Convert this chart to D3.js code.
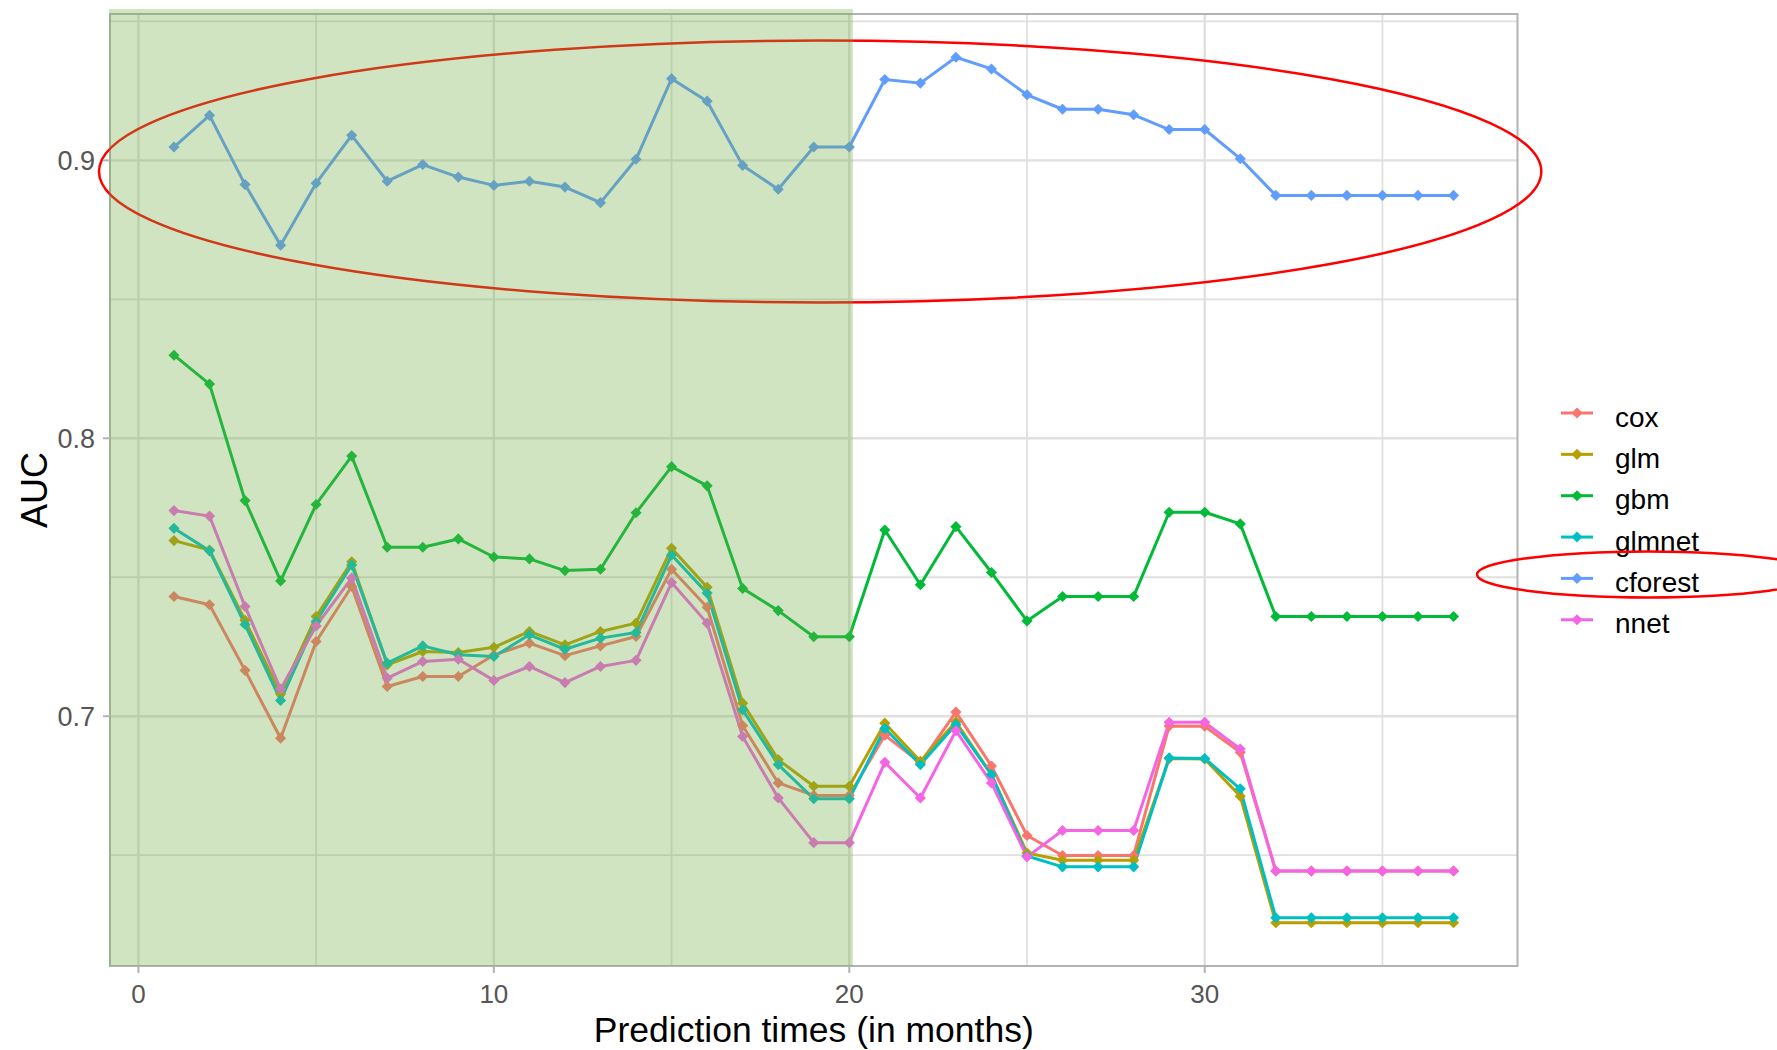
<!DOCTYPE html>
<html>
<head>
<meta charset="utf-8">
<script src="https://cdn.jsdelivr.net/npm/d3@7"></script>
<style>
  body { margin: 0; background: #fff; }
  svg { font-family: "Liberation Sans", Arial, sans-serif; }
</style>
</head>
<body>
<div id="chart"></div>
<script>
var svgWidth = 1777;
var svgHeight = 1050;

// prediction times (months)
var months = [1, 2, 3, 4, 5, 6, 7, 8, 9, 10, 11, 12, 13, 14, 15, 16, 17, 18, 19, 20,
  21, 22, 23, 24, 25, 26, 27, 28, 29, 30, 31, 32, 33, 34, 35, 36, 37];

var cox = [0.7431, 0.7401, 0.7165, 0.6921, 0.7269, 0.7467, 0.7107, 0.7143, 0.7143, 0.7220,
  0.7263, 0.7218, 0.7253, 0.7287, 0.7529, 0.7392, 0.6966, 0.6760, 0.6715, 0.6715,
  0.6932, 0.6832, 0.7015, 0.6821, 0.6571, 0.6499, 0.6499, 0.6499, 0.6965, 0.6964,
  0.6870, 0.6443, 0.6443, 0.6443, 0.6443, 0.6443, 0.6443];
var glm = [0.7632, 0.7598, 0.7345, 0.7080, 0.7359, 0.7556, 0.7185, 0.7233, 0.7229, 0.7248,
  0.7305, 0.7257, 0.7305, 0.7335, 0.7604, 0.7464, 0.7047, 0.6844, 0.6748, 0.6748,
  0.6975, 0.6838, 0.6980, 0.6790, 0.6508, 0.6482, 0.6482, 0.6482, 0.6848, 0.6846,
  0.6712, 0.6257, 0.6257, 0.6257, 0.6257, 0.6257, 0.6257];
var gbm = [0.8299, 0.8195, 0.7776, 0.7487, 0.7762, 0.7936, 0.7608, 0.7608, 0.7638, 0.7573,
  0.7566, 0.7524, 0.7529, 0.7732, 0.7898, 0.7829, 0.7460, 0.7380, 0.7286, 0.7286,
  0.7670, 0.7473, 0.7682, 0.7517, 0.7343, 0.7431, 0.7431, 0.7431, 0.7734, 0.7734,
  0.7692, 0.7359, 0.7359, 0.7359, 0.7359, 0.7359, 0.7359];
var glmnet = [0.7676, 0.7595, 0.7330, 0.7057, 0.7341, 0.7544, 0.7191, 0.7253, 0.7221, 0.7215,
  0.7293, 0.7241, 0.7281, 0.7301, 0.7580, 0.7443, 0.7023, 0.6826, 0.6703, 0.6703,
  0.6956, 0.6826, 0.6970, 0.6790, 0.6497, 0.6458, 0.6458, 0.6458, 0.6850, 0.6848,
  0.6739, 0.6275, 0.6275, 0.6275, 0.6275, 0.6275, 0.6275];
var cforest = [0.9048, 0.9162, 0.8913, 0.8695, 0.8918, 0.9090, 0.8925, 0.8985, 0.8940, 0.8910,
  0.8925, 0.8904, 0.8848, 0.9004, 0.9294, 0.9213, 0.8982, 0.8896, 0.9048, 0.9048,
  0.9291, 0.9278, 0.9371, 0.9329, 0.9236, 0.9184, 0.9184, 0.9164, 0.9111, 0.9111,
  0.9006, 0.8874, 0.8874, 0.8874, 0.8874, 0.8874, 0.8874];
var nnet = [0.7740, 0.7720, 0.7395, 0.7098, 0.7325, 0.7497, 0.7137, 0.7197, 0.7205, 0.7129,
  0.7179, 0.7121, 0.7179, 0.7201, 0.7481, 0.7335, 0.6927, 0.6706, 0.6545, 0.6545,
  0.6834, 0.6706, 0.6948, 0.6760, 0.6494, 0.6589, 0.6589, 0.6589, 0.6978, 0.6978,
  0.6882, 0.6443, 0.6443, 0.6443, 0.6443, 0.6443, 0.6443];

var modelNames = ["cox", "glm", "gbm", "glmnet", "cforest", "nnet"];
var modelColors = ["#F8766D", "#B79F00", "#00BA38", "#00BFC4", "#619CFF", "#F564E3"];

var xTicks = [0, 10, 20, 30];
var xMinor = [5, 15, 25, 35];
var yTicks = [0.7, 0.8, 0.9];
var yMinor = [0.65, 0.75, 0.85, 0.95];

// highlighted training window and annotation ellipse (data units)
var shadeEnd = 20.1;
var ellipse = {cx: 19.18, cy: 0.896, rx: 20.29, ry: 0.0471};

var panel = {left: 110, right: 1517.5, top: 14, bottom: 966};

var series = modelNames.map(function(name, i) {
  var vals = [cox, glm, gbm, glmnet, cforest, nnet][i];
  return {name: name, color: modelColors[i],
    values: months.map(function(m, j) { return {x: m, y: vals[j]}; })};
});

// ggplot style 5% expansion
var allY = [].concat(cox, glm, gbm, glmnet, cforest, nnet);
var yMin = d3.min(allY), yMax = d3.max(allY);
var xMin = d3.min(months), xMax = d3.max(months);
var xPad = (xMax - xMin) * 0.05, yPad = (yMax - yMin) * 0.05;

var xScale = d3.scaleLinear()
  .domain([xMin - xPad, xMax + xPad])
  .range([panel.left, panel.right]);
var yScale = d3.scaleLinear()
  .domain([yMin - yPad, yMax + yPad])
  .range([panel.bottom, panel.top]);

var svg = d3.select("#chart").append("svg")
  .attr("width", svgWidth)
  .attr("height", svgHeight);

var gridColor = "#e0e0e0";
var grid = svg.append("g");
grid.selectAll(".ymin").data(yMinor).enter().append("line")
  .attr("x1", panel.left).attr("x2", panel.right)
  .attr("y1", d => yScale(d)).attr("y2", d => yScale(d))
  .attr("stroke", gridColor).attr("stroke-width", 1.8);
grid.selectAll(".xmin").data(xMinor).enter().append("line")
  .attr("y1", panel.top).attr("y2", panel.bottom)
  .attr("x1", d => xScale(d)).attr("x2", d => xScale(d))
  .attr("stroke", gridColor).attr("stroke-width", 1.8);
grid.selectAll(".ymaj").data(yTicks).enter().append("line")
  .attr("x1", panel.left).attr("x2", panel.right)
  .attr("y1", d => yScale(d)).attr("y2", d => yScale(d))
  .attr("stroke", gridColor).attr("stroke-width", 2.4);
grid.selectAll(".xmaj").data(xTicks).enter().append("line")
  .attr("y1", panel.top).attr("y2", panel.bottom)
  .attr("x1", d => xScale(d)).attr("x2", d => xScale(d))
  .attr("stroke", gridColor).attr("stroke-width", 2.4);

// lines
var line = d3.line().x(d => xScale(d.x)).y(d => yScale(d.y));
svg.append("g").selectAll("path").data(series).enter().append("path")
  .attr("d", d => line(d.values))
  .attr("fill", "none")
  .attr("stroke", d => d.color)
  .attr("stroke-width", 3)
  .attr("stroke-linejoin", "round");

// diamond points
var diamond = d3.symbol().type(d3.symbolSquare).size(62);
series.forEach(function(s) {
  svg.append("g").selectAll("path").data(s.values).enter().append("path")
    .attr("d", diamond)
    .attr("transform", d => `translate(${xScale(d.x)},${yScale(d.y)}) rotate(45)`)
    .attr("fill", s.color);
});

// panel border
svg.append("rect")
  .attr("x", panel.left).attr("y", panel.top)
  .attr("width", panel.right - panel.left).attr("height", panel.bottom - panel.top)
  .attr("fill", "none").attr("stroke", "#b3b3b3").attr("stroke-width", 2);

// red annotation ellipse around cforest
svg.append("ellipse")
  .attr("cx", xScale(ellipse.cx))
  .attr("cy", yScale(ellipse.cy))
  .attr("rx", xScale(ellipse.rx) - xScale(0))
  .attr("ry", yScale(0) - yScale(ellipse.ry))
  .attr("fill", "none").attr("stroke", "#ff0000").attr("stroke-width", 2.5);

// green shaded window (drawn over everything)
svg.append("rect")
  .attr("x", panel.left - 1)
  .attr("y", 9)
  .attr("width", xScale(shadeEnd) - panel.left + 1)
  .attr("height", panel.bottom - 9)
  .attr("fill", "#70AD47").attr("fill-opacity", 0.33);

// axes
var axisColor = "#b3b3b3";
var xAxisG = svg.append("g");
xAxisG.selectAll("line").data(xTicks).enter().append("line")
  .attr("x1", d => xScale(d)).attr("x2", d => xScale(d))
  .attr("y1", panel.bottom).attr("y2", panel.bottom + 7)
  .attr("stroke", axisColor).attr("stroke-width", 2);
xAxisG.selectAll("text").data(xTicks).enter().append("text")
  .attr("x", d => xScale(d)).attr("y", 1003)
  .attr("text-anchor", "middle")
  .attr("font-size", 26).attr("fill", "#555")
  .text(d => d);

var yAxisG = svg.append("g");
yAxisG.selectAll("line").data(yTicks).enter().append("line")
  .attr("x1", panel.left - 7).attr("x2", panel.left)
  .attr("y1", d => yScale(d)).attr("y2", d => yScale(d))
  .attr("stroke", axisColor).attr("stroke-width", 2);
yAxisG.selectAll("text").data(yTicks).enter().append("text")
  .attr("x", 95).attr("y", d => yScale(d) + 10)
  .attr("text-anchor", "end")
  .attr("font-size", 27).attr("fill", "#555")
  .text(d => d3.format(".1f")(d));

svg.append("text")
  .attr("x", (panel.left + panel.right) / 2).attr("y", 1042)
  .attr("text-anchor", "middle")
  .attr("font-size", 35.5).attr("fill", "#000")
  .text("Prediction times (in months)");

svg.append("text")
  .attr("transform", `translate(47, ${(panel.top + panel.bottom) / 2}) rotate(-90)`)
  .attr("text-anchor", "middle")
  .attr("font-size", 36).attr("fill", "#000")
  .text("AUC");

// legend
var legend = svg.append("g").attr("transform", "translate(1561, 413)");
var rowH = 41.35;
var rows = legend.selectAll("g").data(series).enter().append("g")
  .attr("transform", (d, i) => `translate(0, ${i * rowH})`);
rows.append("line")
  .attr("x1", 0).attr("x2", 32).attr("y1", 0).attr("y2", 0)
  .attr("stroke", d => d.color).attr("stroke-width", 3);
rows.append("path")
  .attr("d", diamond)
  .attr("transform", "translate(16,0) rotate(45)")
  .attr("fill", d => d.color);
rows.append("text")
  .attr("x", 54).attr("y", 13.5)
  .attr("font-size", 28).attr("fill", "#000")
  .text(d => d.name);

// red ellipse around the cforest legend entry
svg.append("ellipse")
  .attr("cx", 1648).attr("cy", 413 + 4 * rowH - 4)
  .attr("rx", 171).attr("ry", 23)
  .attr("fill", "none").attr("stroke", "#ff0000").attr("stroke-width", 2.5);
</script>
</body>
</html>
